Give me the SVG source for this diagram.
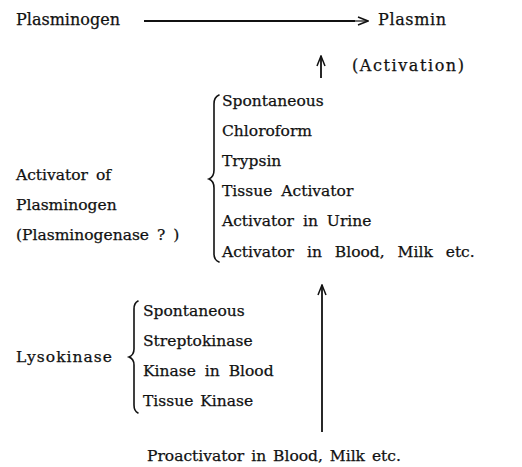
<svg xmlns="http://www.w3.org/2000/svg" width="522" height="467" viewBox="0 0 522 467">
<style>
text{font-family:"DejaVu Serif","Liberation Serif",serif;font-size:15.5px;fill:#111;stroke:#111;stroke-width:0.25}
.big{font-size:16px}
.ln{stroke:#111;fill:none}
.br{stroke:#111;fill:none;stroke-width:1.6;stroke-linecap:round}
</style>
<defs>
<marker id="ah" markerWidth="12" markerHeight="10" refX="11" refY="5" orient="auto" markerUnits="userSpaceOnUse">
<path d="M1,1 L11,5 L1,9" fill="none" stroke="#111" stroke-width="1.5"/>
</marker>
</defs>
<g id="connectors">
<line class="ln" x1="144" y1="21" x2="355" y2="21" stroke-width="2.2"/>
<line class="ln" x1="354" y1="21" x2="368" y2="21" stroke-width="1.2" marker-end="url(#ah)"/>
<line class="ln" x1="321" y1="78" x2="321" y2="56" stroke-width="1.8" marker-end="url(#ah)"/>
<line class="ln" x1="322" y1="432" x2="322" y2="285" stroke-width="1.8" marker-end="url(#ah)"/>
</g>
<g id="plasminogen"><text class="big" x="16" y="25" textLength="104">Plasminogen</text></g>
<g id="plasmin"><text class="big" x="378" y="25" textLength="68">Plasmin</text></g>
<g id="activation"><text class="big" x="352" y="71" textLength="112">(Activation)</text></g>
<g id="activator-group">
<text x="16" y="180" word-spacing="3">Activator of</text>
<text x="16" y="210">Plasminogen</text>
<text x="16" y="240" word-spacing="3">(Plasminogenase ? )</text>
<path class="br" d="M219,95 Q214,97 214,104 L214,170 Q214,177 209,179 Q214,181 214,188 L214,254 Q214,260 219,262"/>
<text x="222" y="106">Spontaneous</text>
<text x="222" y="136">Chloroform</text>
<text x="222" y="166">Trypsin</text>
<text x="222" y="196" word-spacing="4">Tissue Activator</text>
<text x="222" y="226" word-spacing="4">Activator in Urine</text>
<text x="222" y="257" word-spacing="8">Activator in Blood, Milk etc.</text>
</g>
<g id="lysokinase-group">
<text x="16" y="362" textLength="96">Lysokinase</text>
<path class="br" d="M138,301 Q134,303 134,309 L134,349 Q134,355 129,357 Q134,359 134,365 L134,405 Q134,411 138,413"/>
<text x="143" y="316">Spontaneous</text>
<text x="143" y="346">Streptokinase</text>
<text x="143" y="376" word-spacing="4">Kinase in Blood</text>
<text x="143" y="406" word-spacing="2">Tissue Kinase</text>
</g>
<g id="proactivator"><text x="147" y="461" word-spacing="2">Proactivator in Blood, Milk etc.</text></g>
</svg>
